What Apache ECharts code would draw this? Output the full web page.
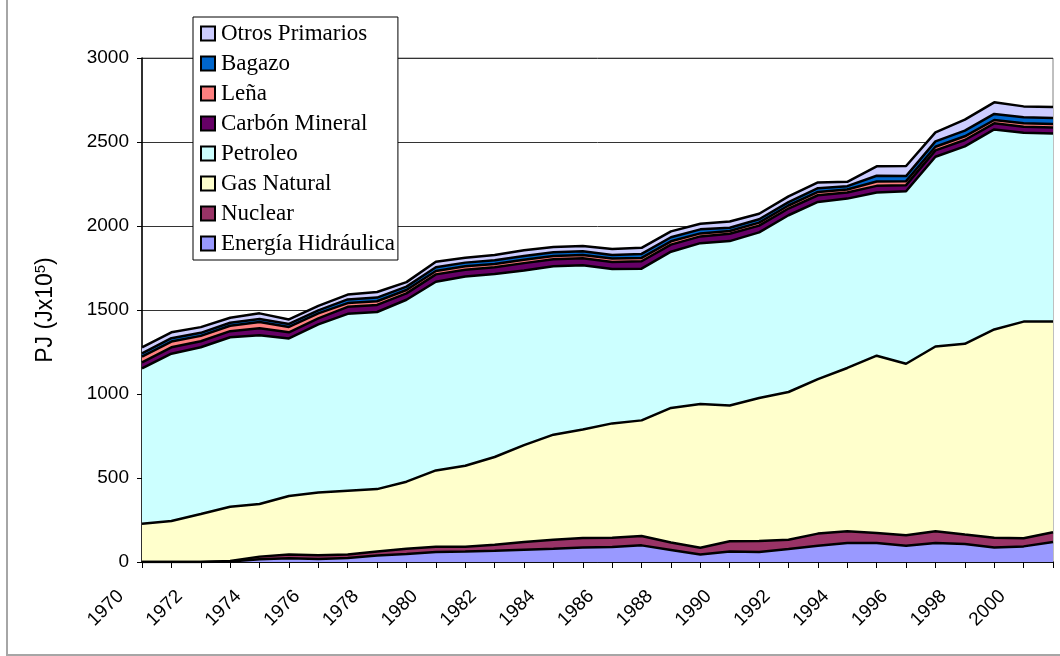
<!DOCTYPE html>
<html lang="es">
<head>
	<meta charset="UTF-8">
	<title>Energía primaria</title>
	<script src="https://cdn.jsdelivr.net/npm/echarts@6/dist/echarts.min.js"></script>
</head>
<body style="margin:0;background-color:#ffffff;">
<div id="main" style="width:1060px;height:656px;"></div>
<script type="text/javascript">
    // años (eje X)
    var years = [];
    for (var y = 1970; y <= 2001; y++) { years.push(String(y)); }

    // valores por fuente, PJ
    var hidraulica = [0,0,0,3,16,22,18,24,38,48,60,62,67,73,79,87,90,99,72,45,62,60,77,97,113,113,97,113,107,87,93,119];
    var nuclear    = [0,0,0,3,16,22,22,20,25,31,31,29,36,46,54,56,55,56,44,40,61,65,56,72,70,60,62,70,56,58,48,58];
    var gasNatural = [228,244,286,323,313,349,374,380,371,399,454,482,522,577,625,646,680,688,801,855,809,851,879,920,972,1055,1021,1100,1136,1239,1290,1254];
    var petroleo   = [924,996,992,1009,1005,938,1000,1053,1054,1083,1123,1127,1089,1039,1002,977,919,903,930,958,978,986,1052,1054,1008,971,1027,1129,1175,1191,1124,1120];
    var carbon     = [36,38,36,36,42,36,36,42,42,38,44,40,40,44,42,42,42,44,42,40,44,40,40,40,36,40,36,38,38,36,36,36];
    var lena       = [34,34,32,32,36,32,30,22,22,20,20,20,20,20,20,20,20,20,20,18,16,18,18,20,18,26,24,22,22,20,20,20];
    var bagazo     = [20,20,18,18,18,18,18,22,22,20,22,22,22,22,22,22,22,24,24,24,20,20,20,22,20,34,30,32,34,36,36,36];
    var otros      = [35,35,34,30,34,27,27,29,33,27,33,29,31,35,31,31,35,36,35,33,37,33,34,34,26,56,60,53,65,69,65,66];

    // nombres y colores, de abajo hacia arriba
    var names  = ['Energía Hidráulica','Nuclear','Gas Natural','Petroleo','Carbón Mineral','Leña','Bagazo','Otros Primarios'];
    var colors = ['#9999FF','#993366','#FFFFCC','#CCFFFF','#660066','#FF8080','#0066CC','#CCCCFF'];
    var datos  = [hidraulica, nuclear, gasNatural, petroleo, carbon, lena, bagazo, otros];

    var yTicks = [0, 500, 1000, 1500, 2000, 2500, 3000];

    var series = [];
    for (var i = 0; i < names.length; i++) {
        series.push({
            name: names[i],
            type: 'line',
            stack: 'total',
            symbol: 'none',
            z: 20 - i,   // las capas de abajo encima para que se vea su borde
            lineStyle: { color: '#000', width: 2.5 },
            itemStyle: { color: colors[i], borderColor: '#000', borderWidth: 2 },
            areaStyle: { color: colors[i], opacity: 1 },
            data: datos[i]
        });
    }

    var myChart = echarts.init(document.getElementById('main'));
    var option = {
        animation: false,
        color: colors,
        graphic: [{
            type: 'polyline',
            shape: { points: [[7, 0], [7, 655], [1060, 655]] },
            style: { stroke: '#a6a6a6', lineWidth: 2, fill: null }
        }],
        legend: {
            orient: 'vertical',
            left: 193,
            top: 17,
            data: names.slice().reverse(),
            icon: 'rect',
            itemWidth: 14,
            itemHeight: 14,
            itemGap: 7,
            itemStyle: { borderColor: '#000', borderWidth: 2 },
            textStyle: { fontFamily: 'Liberation Serif', fontSize: 23, lineHeight: 23, color: '#000', padding: [0, 0, 0, 1] },
            backgroundColor: '#fff',
            borderColor: '#000',
            borderWidth: 1,
            padding: [5, 3, 5, 7],
            selectedMode: false
        },
        grid: {
            left: 142,
            top: 58,
            width: 911,
            height: 504,
            show: true,
            borderColor: '#808080',
            borderWidth: 1
        },
        xAxis: {
            type: 'category',
            boundaryGap: false,
            data: years,
            axisLine: { lineStyle: { color: '#000', width: 1.5 } },
            axisTick: { show: true, interval: 0, length: 6, lineStyle: { color: '#000' } },
            axisLabel: {
                interval: 1,
                rotate: 45,
                margin: 10,
                padding: [0, 30, 0, 0],   // baja la etiqueta a lo largo de su diagonal
                fontFamily: 'Liberation Sans',
                fontSize: 19,
                color: '#000'
            },
            splitLine: { show: false }
        },
        yAxis: {
            type: 'value',
            min: yTicks[0],
            max: yTicks[yTicks.length - 1],
            interval: 500,
            name: '{a|PJ (Jx10}{s|5}{a|)}',
            nameLocation: 'middle',
            nameGap: 84,
            nameRotate: 90,
            nameTextStyle: {
                rich: {
                    a: { fontFamily: 'Liberation Sans', fontSize: 23, color: '#000' },
                    s: { fontFamily: 'Liberation Sans', fontSize: 15, color: '#000', verticalAlign: 'top', padding: [0, 0, 10, 0] }
                }
            },
            axisLine: { show: true, lineStyle: { color: '#000', width: 1.5 } },
            axisTick: { show: true, length: 5, lineStyle: { color: '#000' } },
            axisLabel: {
                margin: 13,
                fontFamily: 'Liberation Sans',
                fontSize: 19,
                color: '#000',
                formatter: function (v) { return String(v); }
            },
            splitLine: { show: true, lineStyle: { color: '#333', width: 1 } }
        },
        series: series
    };
    myChart.setOption(option);
</script>
</body>
</html>
